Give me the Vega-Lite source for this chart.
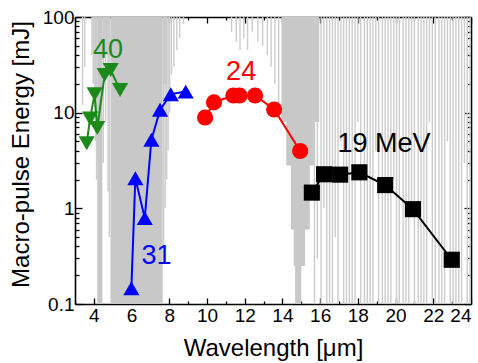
{
  "$schema": "https://vega.github.io/schema/vega-lite/v6.json",
  "width": 396,
  "height": 287,
  "autosize": {"type": "none"},
  "padding": {"left": 75, "top": 17, "right": 7, "bottom": 59},
  "config": {
    "view": {"stroke": null},
    "font": "Liberation Sans",
    "axis": {
      "grid": false, "domain": false, "tickColor": "black", "tickWidth": 1.3,
      "labelFont": "Liberation Sans", "labelFontSize": 19, "labelColor": "black",
      "titleFont": "Liberation Sans", "titleFontSize": 24, "titleFontWeight": "normal", "titleColor": "black",
      "zindex": 1, "domainColor": "black", "domainWidth": 1.6
    }
  },
  "datasets": {
    "bands": [
      {"w1": 3.94, "w2": 4.18, "lo": 50},
      {"w1": 4.18, "w2": 4.45, "lo": 0.1},
      {"w1": 4.45, "w2": 4.88, "lo": 40},
      {"w1": 4.88, "w2": 7.65, "lo": 0.1},
      {"w1": 7.65, "w2": 7.9, "lo": 20},
      {"w1": 13.95, "w2": 15.95, "lo": 8},
      {"w1": 14.2, "w2": 15.7, "lo": 2.8},
      {"w1": 14.45, "w2": 15.45, "lo": 0.6},
      {"w1": 14.6, "w2": 15.2, "lo": 0.25},
      {"w1": 14.67, "w2": 15.0, "lo": 0.1}
    ],
    "lines": [
      {"w": 3.4, "lo": 12}, {"w": 3.52, "lo": 30}, {"w": 3.9, "lo": 40}, {"w": 3.97, "lo": 20},
      {"w": 4.05, "lo": 10}, {"w": 4.1, "lo": 5}, {"w": 4.14, "lo": 2},
      {"w": 4.5, "lo": 3}, {"w": 4.62, "lo": 8}, {"w": 4.75, "lo": 1.5}, {"w": 4.82, "lo": 0.5},
      {"w": 7.7, "lo": 0.4}, {"w": 7.78, "lo": 1.0}, {"w": 7.86, "lo": 2.0}, {"w": 7.94, "lo": 4},
      {"w": 8.02, "lo": 10}, {"w": 8.12, "lo": 25}, {"w": 8.25, "lo": 30}, {"w": 8.4, "lo": 45},
      {"w": 8.55, "lo": 60}, {"w": 8.75, "lo": 85},
      {"w": 11.3, "lo": 70}, {"w": 11.55, "lo": 55}, {"w": 11.75, "lo": 45}, {"w": 11.95, "lo": 60},
      {"w": 12.15, "lo": 45}, {"w": 12.4, "lo": 70}, {"w": 12.7, "lo": 55}, {"w": 12.95, "lo": 50},
      {"w": 13.2, "lo": 40}, {"w": 13.4, "lo": 30}, {"w": 13.6, "lo": 20}, {"w": 13.8, "lo": 12},
      {"w": 15.7, "lo": 0.1}, {"w": 15.85, "lo": 0.3}, {"w": 16.05, "lo": 0.1}, {"w": 16.2, "lo": 1},
      {"w": 16.35, "lo": 0.1}, {"w": 16.5, "lo": 0.1}, {"w": 16.65, "lo": 0.1}, {"w": 16.8, "lo": 0.5},
      {"w": 16.95, "lo": 0.1}, {"w": 17.1, "lo": 5}, {"w": 17.25, "lo": 0.1}, {"w": 17.4, "lo": 0.1},
      {"w": 17.55, "lo": 0.1}, {"w": 17.7, "lo": 0.1}, {"w": 17.85, "lo": 0.1}, {"w": 18.0, "lo": 8},
      {"w": 18.15, "lo": 0.1}, {"w": 18.35, "lo": 0.1}, {"w": 18.5, "lo": 0.1}, {"w": 18.65, "lo": 0.1},
      {"w": 18.8, "lo": 0.1}, {"w": 18.95, "lo": 4}, {"w": 19.1, "lo": 0.1}, {"w": 19.3, "lo": 0.1},
      {"w": 19.45, "lo": 0.1}, {"w": 19.6, "lo": 0.1}, {"w": 19.75, "lo": 0.1}, {"w": 19.9, "lo": 2},
      {"w": 20.05, "lo": 0.1}, {"w": 20.2, "lo": 0.1}, {"w": 20.4, "lo": 0.1}, {"w": 20.55, "lo": 0.1},
      {"w": 20.7, "lo": 0.1}, {"w": 20.85, "lo": 1}, {"w": 21.0, "lo": 0.1}, {"w": 21.2, "lo": 0.1},
      {"w": 21.35, "lo": 0.1}, {"w": 21.5, "lo": 0.1}, {"w": 21.65, "lo": 0.1}, {"w": 21.8, "lo": 8},
      {"w": 21.95, "lo": 0.1}, {"w": 22.1, "lo": 0.1}, {"w": 22.3, "lo": 0.1}, {"w": 22.45, "lo": 0.1},
      {"w": 22.6, "lo": 0.1}, {"w": 22.75, "lo": 5}, {"w": 22.9, "lo": 0.1}, {"w": 23.05, "lo": 0.1},
      {"w": 23.2, "lo": 0.1}, {"w": 23.35, "lo": 0.1}, {"w": 23.5, "lo": 0.1}, {"w": 23.65, "lo": 3},
      {"w": 23.8, "lo": 0.1}, {"w": 23.95, "lo": 0.1}
    ],
    "series": [
      {"series": "40", "wl": 3.62, "e": 4.8}, {"series": "40", "wl": 3.8, "e": 8.7},
      {"series": "40", "wl": 4.04, "e": 15.6}, {"series": "40", "wl": 4.18, "e": 6.9},
      {"series": "40", "wl": 4.57, "e": 24.8}, {"series": "40", "wl": 4.89, "e": 27.9},
      {"series": "40", "wl": 5.39, "e": 17.3},
      {"series": "31", "wl": 5.99, "e": 0.146}, {"series": "31", "wl": 6.2, "e": 2.06},
      {"series": "31", "wl": 6.7, "e": 0.79}, {"series": "31", "wl": 7.05, "e": 5.2},
      {"series": "31", "wl": 7.51, "e": 10.7}, {"series": "31", "wl": 8.08, "e": 15.6},
      {"series": "31", "wl": 8.87, "e": 16.6},
      {"series": "24", "wl": 9.9, "e": 8.9}, {"series": "24", "wl": 10.37, "e": 12.8},
      {"series": "24", "wl": 11.4, "e": 15.1}, {"series": "24", "wl": 11.72, "e": 15.1},
      {"series": "24", "wl": 12.55, "e": 15.1}, {"series": "24", "wl": 13.56, "e": 10.8},
      {"series": "24", "wl": 14.94, "e": 3.98},
      {"series": "19", "wl": 15.56, "e": 1.46}, {"series": "19", "wl": 16.21, "e": 2.27},
      {"series": "19", "wl": 17.06, "e": 2.25}, {"series": "19", "wl": 18.08, "e": 2.38},
      {"series": "19", "wl": 19.45, "e": 1.75}, {"series": "19", "wl": 20.92, "e": 0.98},
      {"series": "19", "wl": 22.98, "e": 0.29}
    ],
    "labels": [
      {"series": "40", "label": "40", "wl": 4.75, "e": 45},
      {"series": "31", "label": "31", "wl": 7.32, "e": 0.318},
      {"series": "24", "label": "24", "wl": 11.81, "e": 26.3},
      {"series": "19", "label": "19 MeV", "wl": 19.39, "e": 4.7}
    ]
  },
  "layer": [
    {
      "data": {"name": "bands"},
      "mark": {"type": "rect", "color": "#c8c8c8"},
      "encoding": {
        "x": {"field": "w1", "type": "quantitative", "scale": {"domain": [3, 24], "nice": false, "zero": false},
              "axis": {"orient": "bottom", "values": [4, 6, 8, 10, 12, 14, 16, 18, 20, 22, 24], "tickSize": -6, "labelPadding": 8,
                       "domain": true, "title": "Wavelength [μm]", "titleX": 198, "titleY": 51, "titleBaseline": "alphabetic"}},
        "x2": {"field": "w2"},
        "y": {"field": "lo", "type": "quantitative", "scale": {"type": "log", "domain": [0.1, 100], "nice": false},
              "axis": {"orient": "left", "values": [0.1, 1, 10, 100], "format": "~g", "tickSize": -7, "labelPadding": 8,
                       "domain": true, "title": "Macro-pulse Energy [mJ]", "titleX": -47, "titleY": 137, "titleBaseline": "alphabetic"}},
        "y2": {"datum": 100}
      }
    },
    {
      "data": {"name": "lines"},
      "mark": {"type": "rule", "color": "#cccccc", "strokeWidth": 1.4},
      "encoding": {
        "x": {"field": "w", "type": "quantitative",
              "axis": {"orient": "bottom", "values": [3, 5, 7, 9, 11, 13, 15, 17, 19, 21, 23], "tickSize": -3, "labels": false, "title": null}},
        "y": {"field": "lo", "type": "quantitative",
              "axis": {"orient": "left", "values": [0.2, 0.3, 0.4, 0.5, 0.6, 0.7, 0.8, 0.9, 2, 3, 4, 5, 6, 7, 8, 9, 20, 30, 40, 50, 60, 70, 80, 90], "tickSize": -4, "labels": false, "title": null}},
        "y2": {"datum": 100}
      }
    },
    {
      "data": {"name": "series"},
      "mark": {"type": "line", "strokeWidth": 2},
      "encoding": {
        "x": {"field": "wl", "type": "quantitative",
              "axis": {"orient": "top", "values": [4, 6, 8, 10, 12, 14, 16, 18, 20, 22, 24], "tickSize": -6, "labels": false, "domain": true, "title": null}},
        "y": {"field": "e", "type": "quantitative",
              "axis": {"orient": "right", "values": [0.1, 1, 10, 100], "tickSize": -7, "labels": false, "domain": true, "title": null}},
        "color": {"field": "series", "type": "nominal", "legend": null,
                  "scale": {"domain": ["40", "31", "24", "19"], "range": ["#1b8a1b", "#0000ff", "#ff0000", "#000000"]}}
      }
    },
    {
      "data": {"name": "series"},
      "mark": {"type": "point", "filled": true, "opacity": 1},
      "encoding": {
        "x": {"field": "wl", "type": "quantitative",
              "axis": {"orient": "top", "values": [3, 5, 7, 9, 11, 13, 15, 17, 19, 21, 23], "tickSize": -3, "labels": false, "title": null}},
        "y": {"field": "e", "type": "quantitative",
              "axis": {"orient": "right", "values": [0.2, 0.3, 0.4, 0.5, 0.6, 0.7, 0.8, 0.9, 2, 3, 4, 5, 6, 7, 8, 9, 20, 30, 40, 50, 60, 70, 80, 90], "tickSize": -4, "labels": false, "title": null}},
        "color": {"field": "series", "type": "nominal", "legend": null},
        "shape": {"field": "series", "type": "nominal", "legend": null,
                  "scale": {"domain": ["40", "31", "24", "19"], "range": ["triangle-down", "triangle-up", "circle", "square"]}},
        "size": {"field": "series", "type": "nominal", "legend": null,
                 "scale": {"domain": ["40", "31", "24", "19"], "range": [260, 260, 160, 130]}}
      }
    },
    {
      "data": {"name": "labels"},
      "mark": {"type": "text", "fontSize": 27, "font": "Liberation Sans", "baseline": "middle", "align": "center"},
      "encoding": {
        "x": {"field": "wl", "type": "quantitative", "axis": null},
        "y": {"field": "e", "type": "quantitative", "axis": null},
        "text": {"field": "label"},
        "color": {"field": "series", "type": "nominal", "legend": null}
      }
    }
  ],
  "resolve": {"axis": {"x": "independent", "y": "independent"}}
}
